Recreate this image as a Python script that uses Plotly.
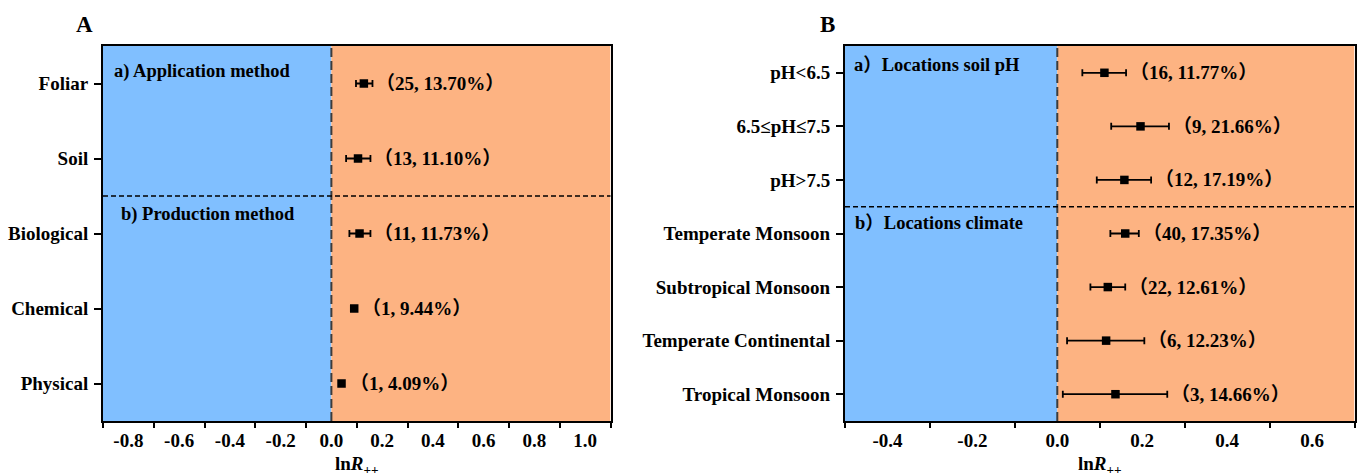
import plotly.graph_objects as go

# ---------------- data ----------------
cats_a = ["Foliar", "Soil", "Biological", "Chemical", "Physical"]
mean_a = [0.128, 0.105, 0.111, 0.090, 0.040]
low_a = [0.097, 0.058, 0.071, 0.090, 0.040]
high_a = [0.162, 0.154, 0.154, 0.090, 0.040]
n_a = [25, 13, 11, 1, 1]
pct_a = [13.70, 11.10, 11.73, 9.44, 4.09]

cats_b = ["pH<6.5", "6.5≤pH≤7.5", "pH>7.5", "Temperate Monsoon",
          "Subtropical Monsoon", "Temperate Continental", "Tropical Monsoon"]
mean_b = [0.111, 0.196, 0.158, 0.160, 0.119, 0.115, 0.137]
low_b = [0.059, 0.127, 0.093, 0.125, 0.078, 0.023, 0.013]
high_b = [0.162, 0.263, 0.221, 0.192, 0.160, 0.205, 0.259]
n_b = [16, 9, 12, 40, 22, 6, 3]
pct_b = [11.77, 21.66, 17.19, 17.35, 12.61, 12.23, 14.66]

ticks_a = [-0.8, -0.6, -0.4, -0.2, 0.0, 0.2, 0.4, 0.6, 0.8, 1.0]
ticks_b = [-0.4, -0.2, 0.0, 0.2, 0.4, 0.6]
range_a = [-0.9, 1.1]
range_b = [-0.5, 0.7]

# ---------------- style ----------------
FONT = "Liberation Serif, Times New Roman, Noto Sans CJK SC, serif"
BLUE = "rgb(128,191,255)"
ORANGE = "rgb(253,179,130)"
W, H = 1357, 476

xa_dom = [103 / W, 610.5 / W]
xb_dom = [845 / W, 1354.5 / W]
y_dom = [1 - 421 / H, 1 - 46 / H]

fig = go.Figure()


def add_panel(cats, mean, low, high, xref, yref):
    fig.add_trace(go.Scatter(
        x=mean, y=cats, mode="markers",
        marker=dict(symbol="square", size=8.5, color="black"),
        error_x=dict(type="data", symmetric=False,
                     array=[h - m for h, m in zip(high, mean)],
                     arrayminus=[m - l for m, l in zip(mean, low)],
                     color="black", thickness=1.8, width=3.5),
        xaxis=xref, yaxis=yref, showlegend=False, cliponaxis=False,
    ))


add_panel(cats_a, mean_a, low_a, high_a, "x", "y")
add_panel(cats_b, mean_b, low_b, high_b, "x2", "y2")

shapes = []
for xr, yr, rng, ysep in [("x", "y", range_a, 1.5), ("x2", "y2", range_b, 2.5)]:
    shapes.append(dict(type="rect", xref=xr, yref=yr + " domain", x0=rng[0], x1=0,
                       y0=0, y1=1, fillcolor=BLUE, line_width=0, layer="below"))
    shapes.append(dict(type="rect", xref=xr, yref=yr + " domain", x0=0, x1=rng[1],
                       y0=0, y1=1, fillcolor=ORANGE, line_width=0, layer="below"))
    shapes.append(dict(type="line", xref=xr, yref=yr + " domain", x0=0, x1=0,
                       y0=0, y1=1, line=dict(color="#3c3c3c", width=2, dash="9px,4px")))
    shapes.append(dict(type="line", xref=xr + " domain", yref=yr, x0=0, x1=1,
                       y0=ysep, y1=ysep, line=dict(color="black", width=1.5, dash="5px,3px")))

annotations = []


def value_labels(cats, mean, high, n, pct, xr, yr):
    for c, m, h, k, p in zip(cats, mean, high, n, pct):
        shift = 2 if h > m else 6
        annotations.append(dict(
            x=h, y=c, xref=xr, yref=yr, xanchor="left", yanchor="middle",
            xshift=shift, showarrow=False, text=f"（{k}, {p:.2f}%）",
            font=dict(family=FONT, size=19, color="black", weight="bold")))


value_labels(cats_a, mean_a, high_a, n_a, pct_a, "x", "y")
value_labels(cats_b, mean_b, high_b, n_b, pct_b, "x2", "y2")

sect = [("a) Application method", 112, 71), ("b) Production method", 119, 215),
        ("a）Locations soil pH", 852, 65), ("b）Locations climate", 853, 223)]
for t, px, py in sect:
    annotations.append(dict(x=px / W, y=1 - py / H, xref="paper", yref="paper",
                            xanchor="left", yanchor="middle", showarrow=False, text=t,
                            font=dict(family=FONT, size=18.5, color="black", weight="bold")))

for t, px in [("A", 84), ("B", 827)]:
    annotations.append(dict(x=px / W, y=1 - 24 / H, xref="paper", yref="paper",
                            xanchor="center", yanchor="middle", showarrow=False, text=t,
                            font=dict(family=FONT, size=23, color="black", weight="bold")))

for dom in [xa_dom, xb_dom]:
    annotations.append(dict(x=(dom[0] + dom[1]) / 2, y=1 - 465 / H, xref="paper", yref="paper",
                            xanchor="center", yanchor="middle", showarrow=False,
                            text="ln<i>R</i><sub>++</sub>",
                            font=dict(family=FONT, size=19, color="black", weight="bold")))


def xaxis(dom, rng, tv):
    return dict(domain=dom, range=rng, tickvals=tv, ticktext=[f"{v:.1f}" for v in tv],
                ticks="", showgrid=False, zeroline=False, showline=True, linecolor="black",
                linewidth=2, mirror=True, ticklabelstandoff=1,
                tickfont=dict(family=FONT, size=19, color="black", weight="bold"),
                minor=dict(tick0=rng[0], dtick=0.2, ticks="outside", ticklen=5,
                           tickwidth=1.5, tickcolor="black", showgrid=False))


def yaxis(cats, anchor):
    return dict(domain=y_dom, type="category", categoryorder="array", categoryarray=cats,
                range=[len(cats) - 0.5, -0.5], anchor=anchor, ticks="outside", ticklen=7,
                tickwidth=2, tickcolor="black", showgrid=False, zeroline=False,
                showline=True, linecolor="black", linewidth=2, mirror=True,
                ticklabelstandoff=2,
                tickfont=dict(family=FONT, size=19, color="black", weight="bold"))


fig.update_layout(
    width=W, height=H, margin=dict(l=0, r=0, t=0, b=0),
    paper_bgcolor="white", plot_bgcolor="white",
    xaxis=dict(anchor="y", **xaxis(xa_dom, range_a, ticks_a)),
    yaxis=yaxis(cats_a, "x"),
    xaxis2=dict(anchor="y2", **xaxis(xb_dom, range_b, ticks_b)),
    yaxis2=yaxis(cats_b, "x2"),
    shapes=shapes, annotations=annotations,
)

fig.write_html("out.html", config={"displayModeBar": False},
               post_script="document.body.style.margin='0';document.body.style.overflow='hidden';")
